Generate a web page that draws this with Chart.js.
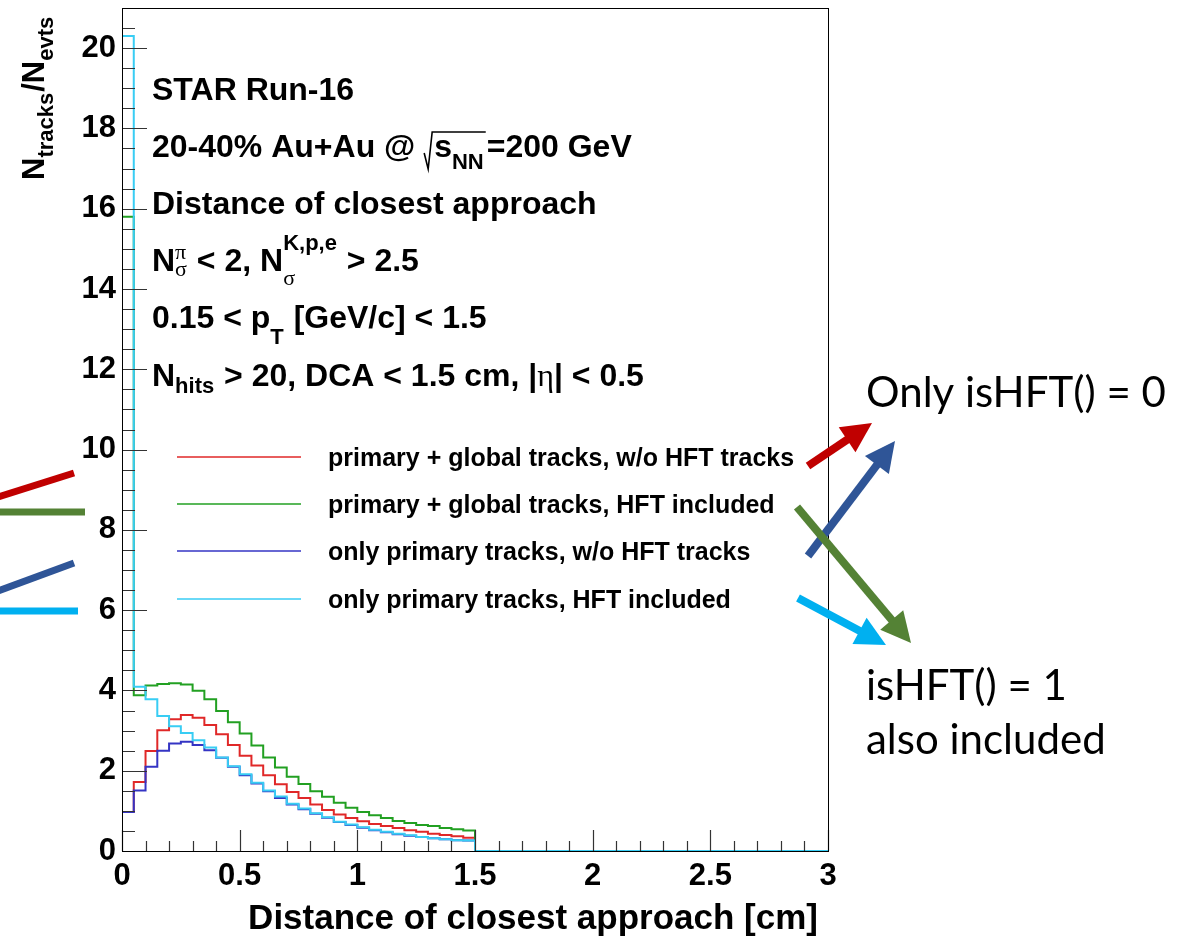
<!DOCTYPE html>
<html>
<head>
<meta charset="utf-8">
<script src="https://cdn.jsdelivr.net/npm/chart.js@4.4.1/dist/chart.umd.min.js"></script>
<style>
  html, body { margin: 0; padding: 0; background: #fff; }
  #wrap { width: 1189px; height: 940px; }
</style>
</head>
<body>
<div id="wrap"><canvas id="dca" width="1189" height="940"></canvas></div>
<script>
// histogram bins: low edges, width 0.05 cm
const binEdges = [
  0.00, 0.05, 0.10, 0.15, 0.20, 0.25, 0.30, 0.35, 0.40, 0.45,
  0.50, 0.55, 0.60, 0.65, 0.70, 0.75, 0.80, 0.85, 0.90, 0.95,
  1.00, 1.05, 1.10, 1.15, 1.20, 1.25, 1.30, 1.35, 1.40, 1.45,
  1.50, 1.55, 1.60, 1.65, 1.70, 1.75, 1.80, 1.85, 1.90, 1.95,
  2.00, 2.05, 2.10, 2.15, 2.20, 2.25, 2.30, 2.35, 2.40, 2.45,
  2.50, 2.55, 2.60, 2.65, 2.70, 2.75, 2.80, 2.85, 2.90, 2.95
];
// bins above 1.5 cm are empty (DCA cut)
const emptyBins = [0, 0, 0, 0, 0, 0, 0, 0, 0, 0, 0, 0, 0, 0, 0, 0, 0, 0, 0, 0, 0, 0, 0, 0, 0, 0, 0, 0, 0, 0];

const primGlobalNoHft = [0.97, 1.72, 2.49, 3.01, 3.28, 3.39, 3.32, 3.14, 2.91, 2.64,
  2.37, 2.13, 1.89, 1.66, 1.47, 1.32, 1.16, 1.02, 0.91, 0.82,
  0.74, 0.67, 0.62, 0.57, 0.52, 0.48, 0.43, 0.40, 0.37, 0.33, ...emptyBins];
const primGlobalHft = [15.8, 3.88, 4.12, 4.16, 4.18, 4.15, 3.99, 3.78, 3.49, 3.21,
  2.93, 2.63, 2.33, 2.08, 1.85, 1.67, 1.49, 1.35, 1.20, 1.08,
  0.97, 0.89, 0.82, 0.75, 0.70, 0.65, 0.62, 0.57, 0.54, 0.51, ...emptyBins];
const primOnlyNoHft = [0.97, 1.51, 2.10, 2.50, 2.68, 2.72, 2.64, 2.51, 2.32, 2.10,
  1.89, 1.68, 1.49, 1.32, 1.16, 1.04, 0.93, 0.83, 0.72, 0.65,
  0.58, 0.52, 0.47, 0.42, 0.38, 0.35, 0.32, 0.29, 0.27, 0.26, ...emptyBins];
const primOnlyHft = [20.3, 4.09, 3.78, 3.36, 3.11, 2.94, 2.76, 2.58, 2.33, 2.11,
  1.91, 1.70, 1.51, 1.36, 1.18, 1.06, 0.94, 0.84, 0.73, 0.66,
  0.59, 0.53, 0.48, 0.43, 0.39, 0.35, 0.32, 0.29, 0.27, 0.26, ...emptyBins];

const seriesLabels = [
  'primary + global tracks, w/o HFT tracks',
  'primary + global tracks, HFT included',
  'only primary tracks, w/o HFT tracks',
  'only primary tracks, HFT included'
];
const seriesColors = ['#e02828', '#22a022', '#3434c4', '#38cdf4'];

const xTickValues = [0, 0.5, 1, 1.5, 2, 2.5, 3];
const xTickLabels = ['0', '0.5', '1', '1.5', '2', '2.5', '3'];
const yTickValues = [0, 2, 4, 6, 8, 10, 12, 14, 16, 18, 20];
const yTickLabels = ['0', '2', '4', '6', '8', '10', '12', '14', '16', '18', '20'];

const X_MIN = 0, X_MAX = 3, Y_MIN = 0, Y_MAX = 21;
const FONT = '"Liberation Sans", Arial, Helvetica, sans-serif';
const GREEK = '"Liberation Serif", "DejaVu Serif", serif';

function toSteps(vals) {
  const pts = binEdges.map((x, i) => ({ x: x, y: vals[i] }));
  pts.push({ x: X_MAX, y: vals[vals.length - 1] });
  return pts;
}

// rich text: strings, {sub, sup}, {root: [...]}, {greek}
function drawRich(ctx, x, y, parts, size) {
  const small = Math.round(size * 0.7);
  for (const p of parts) {
    if (typeof p === 'string') {
      ctx.font = `bold ${size}px ${FONT}`;
      ctx.fillText(p, x, y);
      x += ctx.measureText(p).width;
    } else if (p.greek) {
      ctx.font = `${size}px ${GREEK}`;
      ctx.fillText(p.greek, x, y);
      x += ctx.measureText(p.greek).width;
    } else if (p.root) {
      const x0 = x;
      ctx.save();
      ctx.lineWidth = 1.6;
      ctx.strokeStyle = '#000';
      const xe = drawRich(ctx, x + 10, y, p.root, size);
      ctx.beginPath();
      ctx.moveTo(x0, y - 4);
      ctx.lineTo(x0 + 4, y + 12);
      ctx.lineTo(x0 + 8, y - 25);
      ctx.lineTo(xe + 1, y - 25);
      ctx.stroke();
      ctx.restore();
      x = xe + 2;
    } else {
      let w = 0;
      if (p.sup) {
        ctx.font = p.sup.match(/[α-ω]/) ? `${small}px ${GREEK}` : `bold ${small}px ${FONT}`;
        ctx.fillText(p.sup, x, y + (p.supDy ?? -13));
        w = Math.max(w, ctx.measureText(p.sup).width);
      }
      if (p.sub) {
        ctx.font = p.sub.match(/[α-ω]/) ? `${small}px ${GREEK}` : `bold ${small}px ${FONT}`;
        ctx.fillText(p.sub, x, y + (p.subDy ?? 8));
        w = Math.max(w, ctx.measureText(p.sub).width);
      }
      x += w + 1;
    }
  }
  return x;
}

const infoLines = [
  { y: 100, parts: ['STAR Run-16'] },
  { y: 157, parts: ['20-40% Au+Au @ ', { root: ['s', { sub: 'NN', subDy: 12 }] }, '=200 GeV'] },
  { y: 214, parts: ['Distance of closest approach'] },
  { y: 271, parts: ['N', { sup: 'π', sub: 'σ', supDy: -12, subDy: 5 }, ' < 2, N', { sup: 'K,p,e', sub: 'σ', supDy: -21, subDy: 14 }, ' > 2.5'] },
  { y: 328, parts: ['0.15 < p', { sub: 'T', subDy: 16 }, ' [GeV/c] < 1.5'] },
  { y: 386, parts: ['N', { sub: 'hits', subDy: 7 }, ' > 20, DCA < 1.5 cm, |', { greek: 'η' }, '| < 0.5'] }
];

function drawArrow(ctx, x1, y1, x2, y2, color, width, head) {
  const a = Math.atan2(y2 - y1, x2 - x1);
  const bx = x2 - head * Math.cos(a), by = y2 - head * Math.sin(a);
  ctx.save();
  ctx.strokeStyle = color;
  ctx.fillStyle = color;
  ctx.lineWidth = width;
  ctx.beginPath();
  ctx.moveTo(x1, y1);
  ctx.lineTo(bx + 2 * Math.cos(a), by + 2 * Math.sin(a));
  ctx.stroke();
  const hw = head * 0.5;
  ctx.beginPath();
  ctx.moveTo(x2, y2);
  ctx.lineTo(bx + hw * Math.sin(a), by - hw * Math.cos(a));
  ctx.lineTo(bx - hw * Math.sin(a), by + hw * Math.cos(a));
  ctx.closePath();
  ctx.fill();
  ctx.restore();
}

const rootDecor = {
  id: 'rootDecor',
  beforeDraw(chart) {
    const ctx = chart.ctx;
    ctx.save();
    ctx.fillStyle = '#fff';
    ctx.fillRect(0, 0, chart.width, chart.height);
    ctx.restore();
  },
  afterDraw(chart) {
    const ctx = chart.ctx;
    const a = chart.chartArea;
    const xs = chart.scales.x, ys = chart.scales.y;
    ctx.save();

    // axis ticks (inside, ROOT style)
    ctx.strokeStyle = '#333';
    ctx.lineWidth = 1.2;
    ctx.beginPath();
    for (let i = 0; i <= 42; i++) {
      const py = Math.round(ys.getPixelForValue(i * 0.5)) + 0.5;
      const len = (i % 4 === 0) ? 25 : 13;
      ctx.moveTo(a.left, py);
      ctx.lineTo(a.left + len, py);
    }
    for (let i = 0; i <= 30; i++) {
      const px = Math.round(xs.getPixelForValue(i * 0.1)) + 0.5;
      const len = (i % 5 === 0) ? 21 : 10;
      ctx.moveTo(px, a.bottom);
      ctx.lineTo(px, a.bottom - len);
    }
    ctx.stroke();

    // frame
    ctx.strokeStyle = '#000';
    ctx.lineWidth = 1;
    ctx.strokeRect(Math.round(a.left) + 0.5, Math.round(a.top) + 0.5,
      Math.round(a.right - a.left), Math.round(a.bottom - a.top));

    // legend
    ctx.fillStyle = '#000';
    ctx.textBaseline = 'alphabetic';
    const legY = [457, 504, 551, 599];
    chart.data.datasets.forEach(ds => {
      const i = seriesLabels.indexOf(ds.label);
      ctx.strokeStyle = ds.borderColor;
      ctx.lineWidth = 1.6;
      ctx.beginPath();
      ctx.moveTo(177, legY[i]);
      ctx.lineTo(301, legY[i]);
      ctx.stroke();
      ctx.font = `bold 25px ${FONT}`;
      ctx.fillText(ds.label, 328, legY[i] + 9);
    });

    // info text
    infoLines.forEach(l => drawRich(ctx, 152, l.y, l.parts, 32));

    // x axis title
    ctx.font = `bold 35px ${FONT}`;
    ctx.textAlign = 'right';
    ctx.fillText('Distance of closest approach [cm]', 818, 929);
    ctx.textAlign = 'left';

    // y axis title (rotated)
    ctx.save();
    ctx.translate(44, 180);
    ctx.rotate(-Math.PI / 2);
    drawRich(ctx, 0, 0, ['N', { sub: 'tracks', subDy: 9 }, '/N', { sub: 'evts', subDy: 9 }], 31);
    ctx.restore();

    // annotation arrows
    drawArrow(ctx, 808, 466, 872, 423, '#c00000', 8, 30);
    drawArrow(ctx, 808, 556, 895, 441, '#2f5597', 8, 30);
    drawArrow(ctx, 797, 507, 911, 643, '#548235', 8, 30);
    drawArrow(ctx, 798, 598, 886, 645, '#00b0f0', 8, 30);

    // arrow tails coming from the left edge
    ctx.lineWidth = 7;
    ctx.strokeStyle = '#c00000';
    ctx.beginPath(); ctx.moveTo(-5, 498); ctx.lineTo(74, 473); ctx.stroke();
    ctx.strokeStyle = '#548235';
    ctx.beginPath(); ctx.moveTo(-5, 512); ctx.lineTo(85, 512); ctx.stroke();
    ctx.strokeStyle = '#2f5597';
    ctx.beginPath(); ctx.moveTo(-5, 592); ctx.lineTo(74, 563); ctx.stroke();
    ctx.strokeStyle = '#00b0f0';
    ctx.beginPath(); ctx.moveTo(-5, 611); ctx.lineTo(78, 611); ctx.stroke();

    // notes on the right
    ctx.fillStyle = '#000';
    ctx.font = `42px Lato, "Open Sans", sans-serif`;
    ctx.fillText('Only isHFT() = 0', 866, 407);
    ctx.fillText('isHFT() = 1', 866, 700);
    ctx.fillText('also included', 866, 754);

    ctx.restore();
  }
};

const allSeries = [primGlobalNoHft, primGlobalHft, primOnlyNoHft, primOnlyHft];

new Chart(document.getElementById('dca').getContext('2d'), {
  type: 'line',
  data: {
    datasets: allSeries.map((vals, k) => ({
      label: seriesLabels[k],
      data: toSteps(vals),
      borderColor: seriesColors[k],
      borderWidth: 2,
      stepped: 'before',
      pointRadius: 0,
      fill: false,
      tension: 0,
      order: allSeries.length - k
    }))
  },
  options: {
    responsive: false,
    animation: false,
    devicePixelRatio: 1,
    layout: { padding: { left: 0, top: 8, right: 361, bottom: 0 } },
    plugins: { legend: { display: false }, tooltip: { enabled: false } },
    scales: {
      x: {
        type: 'linear',
        min: X_MIN,
        max: X_MAX,
        grid: { display: false, drawTicks: false },
        border: { display: false },
        afterBuildTicks: s => { s.ticks = xTickValues.map(v => ({ value: v })); },
        afterFit: s => { s.height = 89; s.paddingLeft = 0; s.paddingRight = 0; },
        ticks: {
          color: '#000',
          padding: 7,
          maxRotation: 0,
          autoSkip: false,
          font: { family: FONT, size: 31, weight: 'bold' },
          callback: v => xTickLabels[xTickValues.indexOf(v)]
        }
      },
      y: {
        type: 'linear',
        min: Y_MIN,
        max: Y_MAX,
        grid: { display: false, drawTicks: false },
        border: { display: false },
        afterBuildTicks: s => { s.ticks = yTickValues.map(v => ({ value: v })); },
        afterFit: s => { s.width = 122; s.paddingTop = 0; s.paddingBottom = 0; },
        ticks: {
          color: '#000',
          padding: 6,
          autoSkip: false,
          font: { family: FONT, size: 31, weight: 'bold' },
          callback: v => yTickLabels[yTickValues.indexOf(v)]
        }
      }
    }
  },
  plugins: [rootDecor]
});
</script>
</body>
</html>
